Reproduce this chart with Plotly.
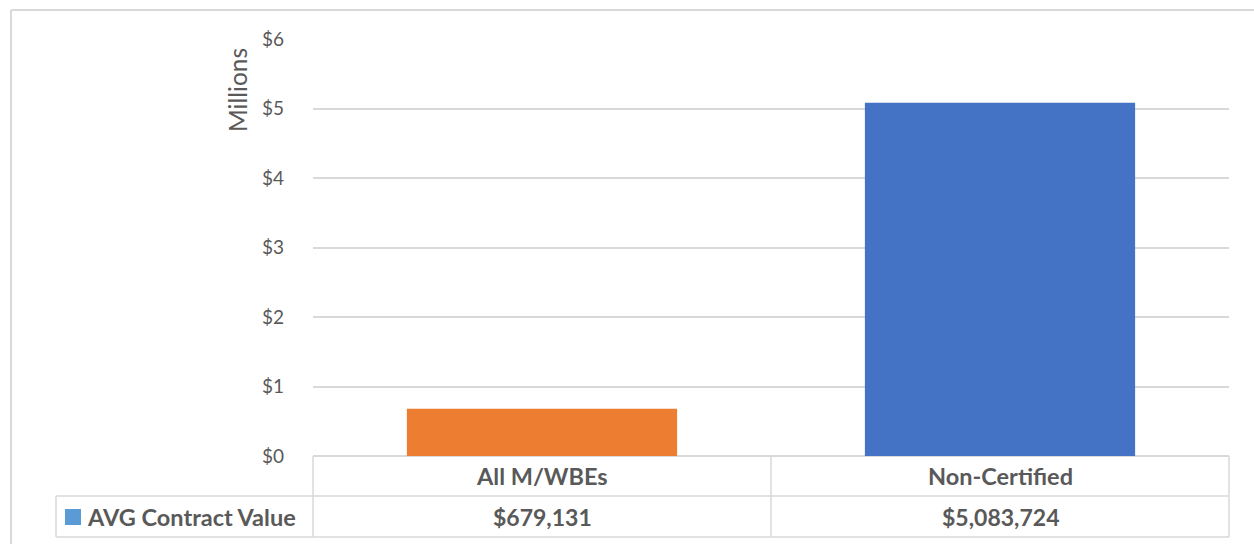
import plotly.graph_objects as go

categories = ["All M/WBEs", "Non-Certified"]
values = [679131, 5083724]
bar_colors = ["#ED7D31", "#4472C4"]
value_labels = ["$679,131", "$5,083,724"]
series_name = "AVG Contract Value"
tick_vals = [0, 1, 2, 3, 4, 5, 6]
tick_text = ["$0", "$1", "$2", "$3", "$4", "$5", "$6"]

W, H = 1254, 544
L, R, T, B = 313, 1229, 39, 456
FONT = "Lato"
TXT = "#595959"
GRID = "#D9D9D9"

fig = go.Figure()
fig.add_trace(go.Bar(
    x=categories,
    y=[v / 1e6 for v in values],
    marker=dict(color=bar_colors, line=dict(width=0)),
    width=0.59,
    name=series_name,
    showlegend=False,
    hoverinfo="skip",
))

# convert page pixels to paper (plot-domain) coordinates
def px(xp):
    return (xp - L) / (R - L)

def py(yp):
    return (B - yp) / (B - T)

shapes = []
def line(x0, y0, x1, y1, w=1.5, c=GRID):
    shapes.append(dict(type="line", xref="paper", yref="paper",
                       x0=px(x0), y0=py(y0), x1=px(x1), y1=py(y1),
                       line=dict(color=c, width=w), layer="below"))

# outer chart frame
line(11, 10, 1254, 10, 2)
line(11, 10, 11, 544, 2)

# data table
row1, row2, row3 = 456, 496, 537
mid = (L + R) / 2
line(L, row1, L, row3)
line(R, row1, R, row3)
line(mid, row1, mid, row3)
line(56, row2, R, row2)
line(56, row3, R, row3)
line(56, row2, 56, row3)
# legend key
shapes.append(dict(type="rect", xref="paper", yref="paper",
                   x0=px(65), x1=px(81), y0=py(525), y1=py(509),
                   fillcolor="#5B9BD5", line=dict(width=0)))

annotations = []
for cat, lab in zip(categories, value_labels):
    annotations.append(dict(x=cat, xref="x", y=py(476), yref="paper",
                            text="<b>%s</b>" % cat, showarrow=False,
                            font=dict(family=FONT, size=23.5, color=TXT),
                            xanchor="center", yanchor="middle"))
    annotations.append(dict(x=cat, xref="x", y=py(517), yref="paper",
                            text="<b>%s</b>" % lab, showarrow=False,
                            font=dict(family=FONT, size=23, color=TXT),
                            xanchor="center", yanchor="middle"))
annotations.append(dict(x=px(85), xref="paper", y=py(517), yref="paper",
                        text="<b>%s</b>" % series_name, showarrow=False,
                        font=dict(family=FONT, size=23.5, color=TXT),
                        xanchor="left", yanchor="middle"))
annotations.append(dict(x=px(237), xref="paper", y=py(90), yref="paper",
                        text="Millions", textangle=-90, showarrow=False,
                        font=dict(family=FONT, size=24.5, color=TXT),
                        xanchor="center", yanchor="middle"))

fig.update_layout(
    width=W, height=H,
    margin=dict(l=L, r=W - R, t=T, b=H - B),
    paper_bgcolor="white", plot_bgcolor="white",
    shapes=shapes, annotations=annotations,
    xaxis=dict(showticklabels=False, showgrid=False, zeroline=False,
               showline=False, fixedrange=True),
    yaxis=dict(range=[0, 6], tickvals=tick_vals, ticktext=tick_text,
               showgrid=True, gridcolor=GRID, gridwidth=1.5,
               zeroline=True, zerolinecolor=GRID, zerolinewidth=1.5,
               showline=False, ticks="", ticklabelstandoff=28,
               tickfont=dict(family=FONT, size=19, color=TXT),
               fixedrange=True),
)

fig.write_html("out.html", config={"displayModeBar": False},
               post_script="document.body.style.margin='0';")
